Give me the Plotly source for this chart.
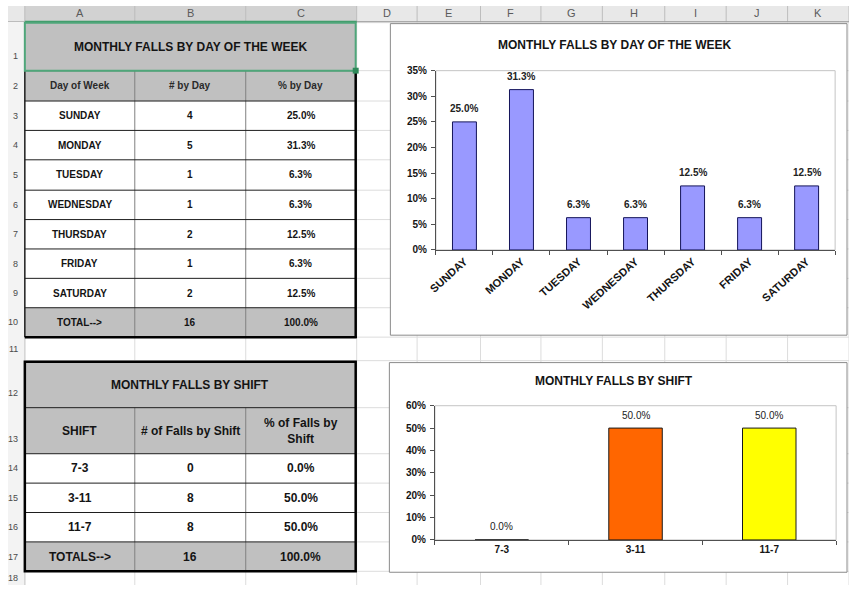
import plotly.graph_objects as go

W, H = 849, 591
FONT = "Arial, Liberation Sans, sans-serif"

# ---------------- data ----------------
days = ["SUNDAY", "MONDAY", "TUESDAY", "WEDNESDAY", "THURSDAY", "FRIDAY", "SATURDAY"]
day_counts = [4, 5, 1, 1, 2, 1, 2]
day_pct = [0.25, 0.313, 0.063, 0.063, 0.125, 0.063, 0.125]
day_total_count = 16
day_total_pct = 1.0
day_headers = ["Day of Week", "# by Day", "% by Day"]
day_title = "MONTHLY FALLS BY DAY OF THE WEEK"

shifts = ["7-3", "3-11", "11-7"]
shift_counts = [0, 8, 8]
shift_pct = [0.0, 0.5, 0.5]
shift_colors = ["#9999ff", "#ff6600", "#ffff00"]
shift_headers = ["SHIFT", "# of Falls by Shift", "% of Falls by<br>Shift"]
shift_title = "MONTHLY FALLS BY SHIFT"

col_letters = list("ABCDEFGHIJK")

# ---------------- layout constants (pixels) ----------------
col_edges = [17, 128, 240, 352, 413, 477, 538, 600, 663, 725, 787, 849]
row_edges = [17, 66, 97, 127, 157, 188, 218, 248, 278, 308, 338, 362, 410, 457, 487, 517, 547, 577, 607]
t1_rows = [66, 97, 127, 157, 188, 218, 248, 278, 308, 338]
t2_rows = [363, 410, 457, 487, 517, 547, 577]
tcols = [17, 128, 240, 351]


def X(px):
    return px / W


def Y(py):
    return 1 - py / H


shapes = []
annotations = []


def rect(x0, y0, x1, y1, fill=None, lc=None, lw=0):
    shapes.append(dict(type="rect", xref="paper", yref="paper",
                       x0=X(x0), x1=X(x1), y0=Y(y1), y1=Y(y0),
                       fillcolor=fill or "rgba(0,0,0,0)",
                       line=dict(color=lc or "rgba(0,0,0,0)", width=lw),
                       layer="below"))


def seg(x0, y0, x1, y1, color, w=1):
    shapes.append(dict(type="line", xref="paper", yref="paper",
                       x0=X(x0), x1=X(x1), y0=Y(y0), y1=Y(y1),
                       line=dict(color=color, width=w), layer="below"))


def text(x, y, s, size, bold=True, color="#141414", xanchor="center"):
    annotations.append(dict(xref="paper", yref="paper", x=X(x), y=Y(y),
                            text=("<b>%s</b>" % s) if bold else s, showarrow=False,
                            font=dict(family=FONT, size=size, color=color),
                            xanchor=xanchor, yanchor="middle", align="center"))


# ---------------- spreadsheet background ----------------
GRID = "#dcdcdc"
for cx in col_edges:
    seg(cx, 16, cx, H, GRID)
for ry in row_edges:
    seg(0, ry, W, ry, GRID)

# column header strip
rect(0, 0, W, 16, fill="#e8e8e8")
rect(17, 0, 352, 16, fill="#d2d2d2")
for cx in col_edges:
    seg(cx, 0, cx, 16, "#bdbdbd")
seg(0, 16, W, 16, "#9c9c9c")
seg(17, 16, 352, 16, "#3f9a6a", 2)
for i, L in enumerate(col_letters):
    cxm = (col_edges[i] + col_edges[i + 1]) / 2
    text(cxm, 7.5, L, 11, bold=False, color="#5a5a5a")

# row header column
rect(0, 16, 17, H, fill="#f3f3f3")
seg(17, 16, 17, H, "#c8c8c8")
for i in range(len(row_edges) - 1):
    top, bot = row_edges[i], row_edges[i + 1]
    yc = min(max((top + bot) / 2, bot - 15), H - 7)
    text(12, yc, str(i + 1), 9, bold=False, color="#4a4a4a", xanchor="right")

# ---------------- table 1 ----------------
TGRAY = "#c0c0c0"
rect(17, 17, 351, 66, fill=TGRAY)
rect(17, 66, 351, 97, fill=TGRAY)
rect(17, 97, 351, 308, fill="#ffffff")
rect(17, 308, 351, 338, fill=TGRAY)
for cx in tcols[1:3]:
    seg(cx, 66, cx, 338, "#808080", 1)
for ry in t1_rows[:-1]:
    seg(17, ry, 351, ry, "#1e1e1e", 1)
seg(17, 66, 17, 338, "#1e1e1e", 1.5)
seg(351, 66, 351, 339, "#000000", 2.5)
seg(17, 338, 352, 338, "#000000", 2.5)
# selected title cell
rect(17, 17, 351, 66, lc="#4fa67a", lw=2)
rect(348, 63, 354, 69, fill="#2f8a5a")

t1_cells = [day_headers] + \
    [[d, str(c), "%.1f%%" % (p * 100)] for d, c, p in zip(days, day_counts, day_pct)] + \
    [["TOTAL-->", str(day_total_count), "%.1f%%" % (day_total_pct * 100)]]
text((17 + 351) / 2, 42, day_title, 12)
for r, row in enumerate(t1_cells):
    yc = (t1_rows[r] + t1_rows[r + 1]) / 2
    for c, val in enumerate(row):
        xc = (tcols[c] + tcols[c + 1]) / 2
        text(xc, yc, val, 10, color="#2a2a2a" if r == 0 else "#141414")

# ---------------- table 2 ----------------
rect(17, 363, 351, 410, fill=TGRAY)
rect(17, 410, 351, 457, fill=TGRAY)
rect(17, 457, 351, 547, fill="#ffffff")
rect(17, 547, 351, 577, fill=TGRAY)
for cx in tcols[1:3]:
    seg(cx, 410, cx, 577, "#808080", 1)
for ry in t2_rows[1:-1]:
    seg(17, ry, 351, ry, "#1e1e1e", 1)
rect(17, 363, 351, 577, lc="#000000", lw=2.5)

t2_cells = [shift_headers] + \
    [[s, str(c), "%.1f%%" % (p * 100)] for s, c, p in zip(shifts, shift_counts, shift_pct)] + \
    [["TOTALS-->", str(sum(shift_counts)), "%.1f%%" % (sum(shift_pct) * 100)]]
text((17 + 351) / 2, 387, shift_title, 12)
for r, row in enumerate(t2_cells):
    yc = (t2_rows[r + 1] + t2_rows[r + 2]) / 2
    for c, val in enumerate(row):
        xc = (tcols[c] + tcols[c + 1]) / 2
        text(xc, yc, val, 12)

# ---------------- chart boxes ----------------
rect(386, 18, 847, 336, fill="#ffffff", lc="#8a8a8a", lw=1)
rect(385, 364, 847, 578, fill="#ffffff", lc="#8a8a8a", lw=1)
rect(432, 66, 835, 249, lc="#c4c4c4", lw=1)
rect(431, 408, 836, 545, lc="#c4c4c4", lw=1)
text(612, 40, day_title, 12)
text(612, 383, shift_title, 12)

# ---------------- figure ----------------
fig = go.Figure()
fig.add_trace(go.Bar(
    x=days, y=day_pct, width=0.42, xaxis="x", yaxis="y",
    marker=dict(color="#9999ff", line=dict(color="#14145a", width=1)),
    hoverinfo="skip"))
fig.add_trace(go.Bar(
    x=shifts, y=shift_pct, width=0.4, xaxis="x2", yaxis="y2",
    marker=dict(color=shift_colors, line=dict(color="#1a1a1a", width=1)),
    hoverinfo="skip"))

for d, p in zip(days, day_pct):
    annotations.append(dict(xref="x", yref="y", x=d, y=p, yshift=13,
                            text="<b>%.1f%%</b>" % (p * 100), showarrow=False,
                            font=dict(family=FONT, size=10, color="#222"),
                            xanchor="center", yanchor="middle"))
for s, p in zip(shifts, shift_pct):
    annotations.append(dict(xref="x2", yref="y2", x=s, y=p, yshift=13,
                            text="%.1f%%" % (p * 100), showarrow=False,
                            font=dict(family=FONT, size=10, color="#222"),
                            xanchor="center", yanchor="middle"))

tickfont = dict(family=FONT, size=10, color="#141414", weight="bold")
axis_common = dict(showline=True, linecolor="#505050", linewidth=1, ticks="outside",
                   ticklen=4, tickcolor="#505050", showgrid=False, zeroline=False,
                   fixedrange=True)

fig.update_layout(
    width=W, height=H, margin=dict(l=0, r=0, t=0, b=0),
    paper_bgcolor="#ffffff", plot_bgcolor="rgba(0,0,0,0)",
    showlegend=False, shapes=shapes, annotations=annotations,
    xaxis=dict(domain=[X(432), X(835)], anchor="y", type="category",
               tickson="boundaries", tickangle=-42,
               tickfont=dict(family=FONT, size=11, color="#141414", weight="bold"),
               **axis_common),
    yaxis=dict(domain=[Y(249), Y(66)], anchor="x", range=[0, 0.35], dtick=0.05,
               tickformat=".0%", ticklabelstandoff=2, tickfont=tickfont, **axis_common),
    xaxis2=dict(domain=[X(431), X(836)], anchor="y2", type="category",
                tickson="boundaries", tickfont=tickfont, **axis_common),
    yaxis2=dict(domain=[Y(545), Y(408)], anchor="x2", range=[0, 0.6], dtick=0.1,
                tickformat=".0%", ticklabelstandoff=2, tickfont=tickfont, **axis_common),
)

fig.write_html("out.html", config={"displayModeBar": False},
               post_script="document.body.style.margin='0';document.body.style.overflow='hidden';")
